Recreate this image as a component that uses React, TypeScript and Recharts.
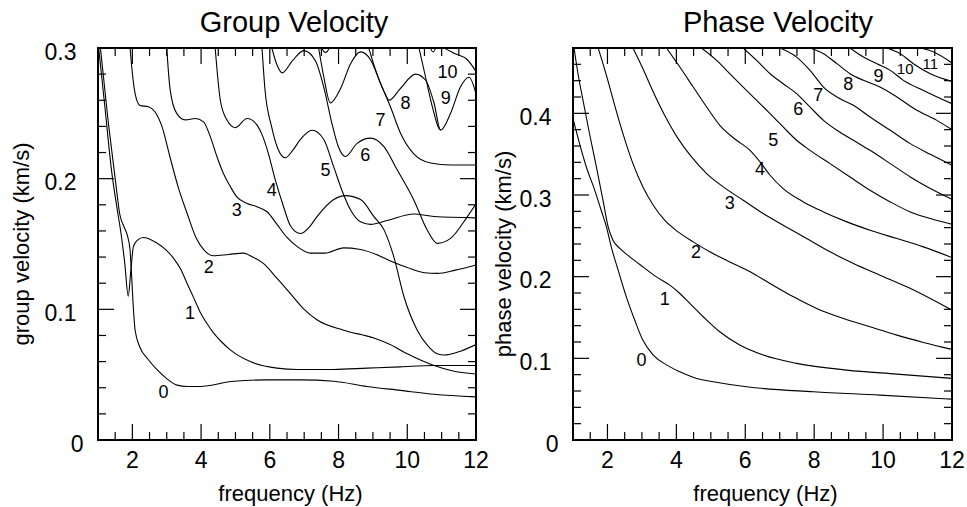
import React from 'react';
import { ComposedChart, Line, XAxis, YAxis, Scatter } from 'recharts';

const FONT = '"Liberation Sans", Arial, Helvetica, sans-serif';

// ---------- ticks ----------
const xTicks = [1, 1.5, 2, 2.5, 3, 3.5, 4, 4.5, 5, 5.5, 6, 6.5, 7, 7.5, 8, 8.5, 9, 9.5, 10, 10.5, 11, 11.5, 12];
const groupYTicks = [0, 0.02, 0.04, 0.06, 0.08, 0.1, 0.12, 0.14, 0.16, 0.18, 0.2, 0.22, 0.24, 0.26, 0.28, 0.3];
const phaseYTicks = [0, 0.02, 0.04, 0.06, 0.08, 0.1, 0.12, 0.14, 0.16, 0.18, 0.2, 0.22, 0.24, 0.26, 0.28, 0.3, 0.32, 0.34, 0.36, 0.38, 0.4, 0.42, 0.44, 0.46, 0.48];

// ---------- group velocity modes [frequency, velocity] ----------
const groupMode0 = [[1.07,0.3],[1.3,0.243],[1.5,0.2],[1.64,0.172],[1.76,0.163],[1.86,0.156],[1.93,0.146],[1.98,0.125],[2.02,0.105],[2.08,0.084],[2.22,0.071],[2.45,0.062],[2.71,0.054],[3.0,0.047],[3.3,0.042],[3.59,0.041],[3.97,0.041],[4.95,0.045],[5.92,0.046],[6.9,0.046],[7.86,0.045],[8.83,0.041],[9.8,0.038],[10.78,0.035],[12,0.033]];
const groupMode1 = [[1.02,0.3],[1.2,0.255],[1.4,0.205],[1.55,0.178],[1.67,0.158],[1.78,0.135],[1.88,0.11],[1.95,0.128],[2.03,0.148],[2.15,0.153],[2.32,0.155],[2.7,0.151],[3.0,0.145],[3.2,0.139],[3.4,0.131],[3.59,0.12],[3.8,0.108],[3.97,0.098],[4.2,0.088],[4.36,0.082],[4.6,0.075],[4.85,0.069],[5.43,0.06],[6.21,0.055],[6.8,0.054],[7.86,0.054],[8.83,0.055],[9.8,0.056],[10.78,0.057],[12,0.057]];
const groupMode2 = [[1.93,0.301],[1.98,0.286],[2.08,0.265],[2.22,0.256],[2.47,0.255],[2.66,0.251],[2.86,0.24],[3.1,0.216],[3.34,0.193],[3.6,0.173],[3.85,0.155],[4.1,0.145],[4.36,0.141],[4.8,0.142],[5.24,0.143],[5.5,0.14],[5.82,0.135],[6.2,0.124],[6.6,0.112],[7.0,0.1],[7.37,0.092],[8.15,0.084],[9.03,0.078],[9.5,0.073],[10.0,0.066],[10.4,0.061],[10.78,0.057],[11.3,0.053],[12,0.0505]];
const groupMode3 = [[3.0,0.3],[3.1,0.268],[3.29,0.25],[3.54,0.245],[3.83,0.246],[4.07,0.2435],[4.27,0.232],[4.46,0.217],[4.65,0.204],[4.85,0.194],[5.04,0.186],[5.34,0.181],[5.63,0.1785],[5.92,0.1747],[6.21,0.165],[6.5,0.155],[6.8,0.148],[7.18,0.143],[7.6,0.143],[8.15,0.147],[8.6,0.146],[9.1,0.142],[9.51,0.137],[10.0,0.132],[10.5,0.128],[10.87,0.1275],[11.4,0.13],[12,0.134]];
const groupMode4 = [[4.41,0.3],[4.56,0.26],[4.75,0.245],[4.99,0.239],[5.34,0.246],[5.6,0.242],[5.8,0.232],[5.95,0.22],[6.16,0.199],[6.4,0.1785],[6.6,0.164],[6.89,0.158],[7.15,0.163],[7.375,0.171],[7.86,0.184],[8.2,0.187],[8.64,0.184],[9.03,0.171],[9.32,0.161],[9.61,0.14],[9.9,0.11],[10.29,0.084],[10.6,0.072],[10.87,0.066],[11.07,0.065],[11.55,0.068],[12,0.073]];
const groupMode5 = [[5.77,0.301],[5.86,0.268],[6.05,0.24],[6.25,0.222],[6.45,0.216],[6.65,0.221],[6.89,0.23],[7.23,0.237],[7.57,0.23],[7.86,0.209],[8.1,0.191],[8.35,0.176],[8.64,0.167],[8.93,0.165],[9.42,0.168],[10.19,0.173],[10.78,0.171],[12,0.17]];
const groupMode6 = [[6.06,0.3],[6.21,0.287],[6.36,0.281],[6.65,0.29],[6.99,0.298],[7.33,0.29],[7.57,0.27],[7.81,0.242],[8.0,0.224],[8.2,0.217],[8.54,0.227],[8.93,0.231],[9.32,0.2245],[9.71,0.2066],[10.19,0.1837],[10.58,0.1607],[10.87,0.1505],[11.26,0.1543],[11.75,0.171],[12,0.1806]];
const groupMode7 = [[7.42,0.3],[7.57,0.278],[7.76,0.258],[8.06,0.269],[8.35,0.288],[8.64,0.297],[8.93,0.291],[9.22,0.273],[9.51,0.255],[9.8,0.235],[10.19,0.219],[10.68,0.212],[11.26,0.2105],[12,0.2105]];
const groupMode8 = [[8.88,0.3],[9.08,0.283],[9.32,0.267],[9.47,0.26],[9.8,0.269],[10.24,0.28],[10.53,0.2755],[10.78,0.2577],[10.97,0.2372],[11.26,0.25],[11.55,0.2704],[11.8,0.2776],[12,0.265]];
const groupMode9 = [[10.34,0.3],[10.53,0.278],[10.73,0.255],[10.92,0.2385],[10.97,0.2372]];
const groupMode10 = [[11.07,0.3],[11.36,0.296],[11.75,0.291],[12,0.282]];
const groupMode11 = [[7.42,0.31],[7.52,0.2995],[7.62,0.2965],[7.72,0.2995],[7.82,0.31]];
const groupMode12 = [[10.6,0.308],[10.68,0.2995],[10.75,0.297],[10.82,0.2995],[10.9,0.308]];

const groupLabels = [
  { f: 2.905, v: 0.037, t: '0' }, { f: 3.68, v: 0.097, t: '1' }, { f: 4.22, v: 0.1327, t: '2' },
  { f: 5.04, v: 0.176, t: '3' }, { f: 6.06, v: 0.191, t: '4' }, { f: 7.62, v: 0.2066, t: '5' },
  { f: 8.78, v: 0.218, t: '6' }, { f: 9.22, v: 0.245, t: '7' }, { f: 9.95, v: 0.2577, t: '8' },
  { f: 11.12, v: 0.2615, t: '9' }, { f: 11.17, v: 0.2819, t: '10' },
];

// ---------- phase velocity modes ----------
const phaseMode0 = [[1.0,0.3935],[1.19,0.363],[1.39,0.334],[1.63,0.306],[1.82,0.281],[1.97,0.261],[2.11,0.2365],[2.31,0.208],[2.55,0.175],[2.79,0.147],[3.03,0.122],[3.33,0.104],[3.71,0.092],[4.1,0.0836],[4.59,0.0754],[5.07,0.0714],[6.04,0.0652],[7.98,0.0591],[9.91,0.055],[12,0.05]];
const phaseMode1 = [[1.03,0.48],[1.145,0.4485],[1.29,0.416],[1.48,0.375],[1.68,0.334],[1.87,0.2936],[2.02,0.261],[2.16,0.2447],[2.36,0.2345],[2.65,0.2243],[3.03,0.212],[3.42,0.1998],[3.81,0.1896],[4.1,0.1794],[4.39,0.1672],[4.78,0.1509],[5.26,0.1325],[5.84,0.1162],[6.52,0.104],[7.49,0.0938],[8.95,0.0856],[10.4,0.0807],[12,0.0754]];
const phaseMode2 = [[1.73,0.48],[1.97,0.4465],[2.21,0.4098],[2.45,0.3751],[2.74,0.3384],[3.03,0.3099],[3.33,0.2875],[3.66,0.2691],[4.05,0.2548],[4.49,0.2426],[4.97,0.2304],[5.55,0.2181],[6.14,0.2059],[6.72,0.1916],[7.4,0.1753],[8.07,0.1611],[8.85,0.1488],[9.62,0.1386],[10.4,0.1284],[11.17,0.1195],[12,0.1109]];
const phaseMode3 = [[2.74,0.48],[3.03,0.4546],[3.33,0.4261],[3.66,0.3976],[4.05,0.369],[4.44,0.3466],[4.88,0.3262],[5.36,0.3099],[5.94,0.2936],[6.52,0.2773],[7.1,0.263],[7.78,0.2467],[8.46,0.2304],[9.14,0.2161],[9.91,0.2018],[10.69,0.1876],[11.37,0.1733],[12,0.159]];
const phaseMode4 = [[3.71,0.48],[4.1,0.4567],[4.49,0.4322],[4.88,0.4077],[5.26,0.3853],[5.75,0.367],[6.14,0.3547],[6.43,0.3405],[6.72,0.3242],[7.1,0.3079],[7.69,0.2915],[8.27,0.2793],[8.95,0.2671],[9.62,0.2569],[10.4,0.2467],[11.17,0.2365],[12,0.2234]];
const phaseMode5 = [[4.73,0.48],[5.17,0.4648],[5.55,0.4485],[5.94,0.4322],[6.33,0.4159],[6.72,0.3996],[7.1,0.3833],[7.49,0.367],[7.88,0.3547],[8.46,0.3384],[9.04,0.3221],[9.62,0.3058],[10.21,0.2915],[10.79,0.2793],[11.37,0.2712],[12,0.2642]];
const phaseMode6 = [[5.94,0.48],[6.33,0.4648],[6.72,0.4485],[7.1,0.4363],[7.49,0.4241],[7.88,0.4077],[8.27,0.3914],[8.66,0.3792],[9.14,0.367],[9.62,0.3547],[10.21,0.3384],[10.79,0.3221],[11.37,0.3079],[12,0.2948]];
const phaseMode7 = [[7.01,0.48],[7.49,0.4689],[7.88,0.4526],[8.27,0.4322],[8.66,0.42],[9.14,0.4098],[9.62,0.3955],[10.21,0.3792],[10.79,0.3629],[11.37,0.3498],[12,0.3364]];
const phaseMode8 = [[7.88,0.48],[8.27,0.473],[8.66,0.4608],[9.04,0.4485],[9.43,0.4404],[9.91,0.4322],[10.4,0.42],[10.98,0.4037],[11.56,0.3914],[12,0.38]];
const phaseMode9 = [[9.04,0.48],[9.43,0.4689],[9.82,0.4608],[10.21,0.4526],[10.59,0.4404],[11.17,0.4281],[12,0.4118]];
const phaseMode10 = [[10.11,0.48],[10.5,0.473],[10.88,0.4608],[11.37,0.4485],[12,0.4391]];
const phaseMode11 = [[11.08,0.48],[11.47,0.475],[12,0.4616]];

const phaseLabels = [
  { f: 2.99, v: 0.098, t: '0' }, { f: 3.66, v: 0.173, t: '1' }, { f: 4.57, v: 0.2296, t: '2' },
  { f: 5.55, v: 0.2907, t: '3' }, { f: 6.43, v: 0.3323, t: '4' }, { f: 6.81, v: 0.3678, t: '5' },
  { f: 7.54, v: 0.4057, t: '6' }, { f: 8.12, v: 0.422, t: '7' }, { f: 8.99, v: 0.4363, t: '8' },
  { f: 9.87, v: 0.4453, t: '9' }, { f: 10.64, v: 0.4555, t: '10' }, { f: 11.37, v: 0.4608, t: '11' },
];

const groupModes = [groupMode0, groupMode1, groupMode2, groupMode3, groupMode4, groupMode5, groupMode6, groupMode7, groupMode8, groupMode9, groupMode10, groupMode11, groupMode12];
const phaseModes = [phaseMode0, phaseMode1, phaseMode2, phaseMode3, phaseMode4, phaseMode5, phaseMode6, phaseMode7, phaseMode8, phaseMode9, phaseMode10, phaseMode11];

const toPts = (arr: number[][]) => arr.map(([f, v]) => ({ f, v }));
const isMult = (v: number, step: number) => Math.abs(v / step - Math.round(v / step)) < 1e-6;

// ---------- layout ----------
const CHART_H = 507;
const TOP = 48;
const X_AXIS_H = 67;
const PLOT_H = CHART_H - TOP - X_AXIS_H;
const X_MIN = 1;
const X_MAX = 12;

const BottomLabel = (props: any) => {
  const { x, y, payload } = props;
  const val = payload.value;
  if (!isMult(val, 2)) return <g />;
  return <text x={x} y={y + 28} textAnchor="middle" fontSize={23} fontFamily={FONT} fill="#000">{val}</text>;
};
const LeftLabel = (props: any) => {
  const { x, y, payload } = props;
  const val = payload.value;
  if (!isMult(val, 0.1)) return <g />;
  const txt = val === 0 ? '0' : String(Math.round(val * 10) / 10);
  return (
    <text x={x - (val === 0 ? 14.5 : 21.5)} y={y + 11.5} textAnchor="end" fontSize={23} fontFamily={FONT} fill="#000">{txt}</text>
  );
};

// frame with inward ticks on all four sides (decoration only)
function Frame(props: { left: number; plotW: number; yMax: number; yTicks: number[] }) {
  const { left, plotW, yMax, yTicks } = props;
  const top = TOP;
  const bottom = TOP + PLOT_H;
  const right = left + plotW;
  const sx = (t: number) => left + ((t - X_MIN) / (X_MAX - X_MIN)) * plotW;
  const sy = (v: number) => bottom - (v / yMax) * PLOT_H;
  return (
    <g stroke="#000" fill="none">
      {xTicks.map((t) => {
        const len = isMult(t, 2) ? 16 : 8;
        const px = sx(t);
        return (
          <g key={'x' + t} strokeWidth={1.2}>
            <line x1={px} x2={px} y1={bottom} y2={bottom - len} />
            <line x1={px} x2={px} y1={top} y2={top + len} />
          </g>
        );
      })}
      {yTicks.map((v) => {
        const len = isMult(v, 0.1) ? 16 : 8;
        const py = sy(v);
        return (
          <g key={'y' + v} strokeWidth={1.2}>
            <line x1={left} x2={left + len} y1={py} y2={py} />
            <line x1={right} x2={right - len} y1={py} y2={py} />
          </g>
        );
      })}
      <rect x={left} y={top} width={plotW} height={PLOT_H} strokeWidth={2} />
    </g>
  );
}

function Panel(props: {
  width: number; yAxisWidth: number; right: number; yMax: number; yTicks: number[];
  modes: number[][][]; labels: { f: number; v: number; t: string }[]; smallFrom: number;
}) {
  const { width, yAxisWidth, right, yMax, yTicks, modes, labels, smallFrom } = props;
  return (
    <ComposedChart width={width} height={CHART_H} margin={{ top: TOP, right, left: 0, bottom: 0 }}>
      <XAxis xAxisId="b" dataKey="f" orientation="bottom" type="number" domain={[X_MIN, X_MAX]} allowDataOverflow ticks={xTicks}
        interval={0} height={X_AXIS_H} tickSize={0} tickMargin={0} tickLine={false} axisLine={false}
        tick={<BottomLabel />} />
      <YAxis yAxisId="l" orientation="left" type="number" domain={[0, yMax]} allowDataOverflow ticks={yTicks}
        interval={0} width={yAxisWidth} tickSize={0} tickMargin={0} tickLine={false} axisLine={false}
        tick={<LeftLabel />} />
      {modes.map((m, i) => (
        <Line key={i} xAxisId="b" yAxisId="l" data={toPts(m)} dataKey="v" type="monotone" stroke="#000"
          strokeWidth={1.1} dot={false} activeDot={false} isAnimationActive={false} />
      ))}
      <Scatter xAxisId="b" yAxisId="l" data={labels} dataKey="v" isAnimationActive={false}
        shape={(p: any) => (
          <text x={p.cx} y={p.cy} textAnchor="middle" dominantBaseline="central"
            fontSize={p.payload.t.length > 1 && smallFrom > 0 ? 15 : 18} fontFamily={FONT} fill="#000">
            {p.payload.t}
          </text>
        )} />
    </ComposedChart>
  );
}

const LEFT_PANEL = { x: 0, width: 495, yAxisWidth: 98, right: 19 };
const RIGHT_PANEL = { x: 480, width: 487, yAxisWidth: 93, right: 15 };

export default function App() {
  const lw = LEFT_PANEL.width - LEFT_PANEL.yAxisWidth - LEFT_PANEL.right;
  const rw = RIGHT_PANEL.width - RIGHT_PANEL.yAxisWidth - RIGHT_PANEL.right;
  return (
    <div style={{ position: 'absolute', left: 0, top: 0, width: 967, height: 507, background: '#fff', overflow: 'hidden' }}>
      <div style={{ position: 'absolute', left: LEFT_PANEL.x, top: 0 }}>
        <Panel width={LEFT_PANEL.width} yAxisWidth={LEFT_PANEL.yAxisWidth} right={LEFT_PANEL.right} yMax={0.3}
          yTicks={groupYTicks} modes={groupModes} labels={groupLabels} smallFrom={0} />
      </div>
      <div style={{ position: 'absolute', left: RIGHT_PANEL.x, top: 0 }}>
        <Panel width={RIGHT_PANEL.width} yAxisWidth={RIGHT_PANEL.yAxisWidth} right={RIGHT_PANEL.right} yMax={0.48}
          yTicks={phaseYTicks} modes={phaseModes} labels={phaseLabels} smallFrom={1} />
      </div>
      <svg width={967} height={507} style={{ position: 'absolute', left: 0, top: 0, pointerEvents: 'none' }}>
        <Frame left={LEFT_PANEL.x + LEFT_PANEL.yAxisWidth} plotW={lw} yMax={0.3} yTicks={groupYTicks} />
        <Frame left={RIGHT_PANEL.x + RIGHT_PANEL.yAxisWidth} plotW={rw} yMax={0.48} yTicks={phaseYTicks} />
        <g fontFamily={FONT} fill="#000">
          <text x={294} y={32} textAnchor="middle" fontSize={29}>Group Velocity</text>
          <text x={778} y={32} textAnchor="middle" fontSize={29}>Phase Velocity</text>
          <text x={290.5} y={501} textAnchor="middle" fontSize={22}>frequency (Hz)</text>
          <text x={765.5} y={501} textAnchor="middle" fontSize={22}>frequency (Hz)</text>
          <text transform="translate(28.5,244) rotate(-90)" textAnchor="middle" fontSize={22}>group velocity (km/s)</text>
          <text transform="translate(510.5,254) rotate(-90)" textAnchor="middle" fontSize={22}>phase velocity (km/s)</text>
        </g>
      </svg>
    </div>
  );
}
